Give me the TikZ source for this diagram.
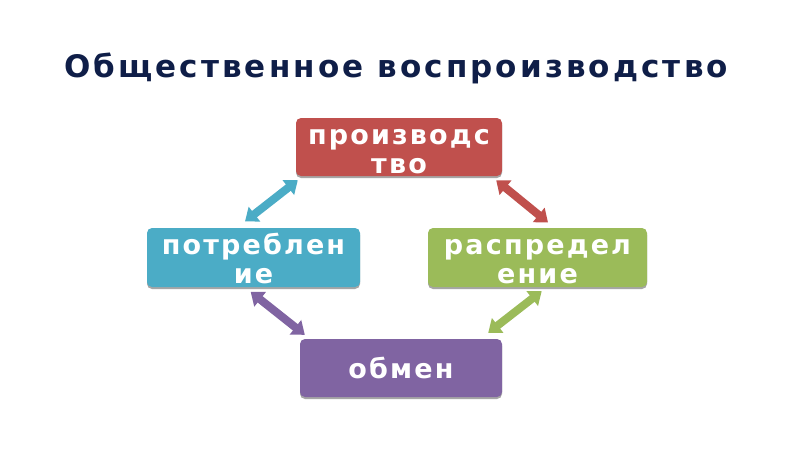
\documentclass[tikz,border=0pt]{standalone}
\usepackage{fontspec}
\setmainfont{DejaVu Sans}
\newfontfamily\titlefont[LetterSpace=10]{DejaVu Sans}
\newfontfamily\boxfont[LetterSpace=8]{DejaVu Sans}
\usetikzlibrary{arrows.meta,calc}
\definecolor{titlecol}{HTML}{0F1E48}
\definecolor{cred}{HTML}{C0504D}
\definecolor{cblue}{HTML}{4BACC6}
\definecolor{cgreen}{HTML}{9BBB59}
\definecolor{cpurple}{HTML}{8064A2}
\tikzset{
  stagebox/.style={fill=#1, rounded corners=5pt, minimum width=206pt, minimum height=58pt,
    text=white, align=center, font=\boxfont\bfseries\fontsize{27}{29}\selectfont, inner sep=0pt},
  twoline/.style={text depth=0pt, text height=52pt},
  shadowbox/.style={fill=black!35, rounded corners=5pt},
  dblarrow/.style={draw=#1, line width=8pt,
    {Triangle[width=18pt,length=12pt]}-{Triangle[width=18pt,length=12pt]}},
}
\begin{document}
\begin{tikzpicture}[x=1pt,y=-1pt]
\useasboundingbox[fill=white] (0,0) rectangle (800,450);
\node[text=titlecol, font=\titlefont\bfseries\fontsize{31}{36}\selectfont, anchor=base] (title) at (396,77) {Общественное воспроизводство};
% shadows
\fill[shadowbox] (296,120) rectangle (502,178);
\fill[shadowbox] (147,230) rectangle (360,289);
\fill[shadowbox] (428,230) rectangle (647,289);
\fill[shadowbox] (300,341) rectangle (502,399);
\node[stagebox=cred, twoline, minimum width=206pt] (prod) at (399,147) {производс\\тво};
\node[stagebox=cblue, twoline, minimum width=213pt, minimum height=59pt] (potr) at (253.5,257.5) {потреблен\\ие};
\node[stagebox=cgreen, twoline, minimum width=219pt, minimum height=59pt] (rasp) at (537.5,257.5) {распредел\\ение};
\node[stagebox=cpurple, minimum width=202pt] (obm) at (401,368) {обмен};
\draw[dblarrow=cblue] ([xshift=-8.5pt,yshift=6.3pt]potr.north) -- ([xshift=2pt,yshift=-4pt]prod.south west);
\draw[dblarrow=cred] ([xshift=-6pt,yshift=-4pt]prod.south east) -- ([xshift=10.5pt,yshift=5.3pt]rasp.north);
\draw[dblarrow=cpurple] ([xshift=-2.8pt,yshift=-4.7pt]potr.south) -- ([xshift=5pt,yshift=4pt]obm.north west);
\draw[dblarrow=cgreen] ([xshift=4.2pt,yshift=-4pt]rasp.south) -- ([xshift=-14pt,yshift=6pt]obm.north east);
\end{tikzpicture}
\end{document}
